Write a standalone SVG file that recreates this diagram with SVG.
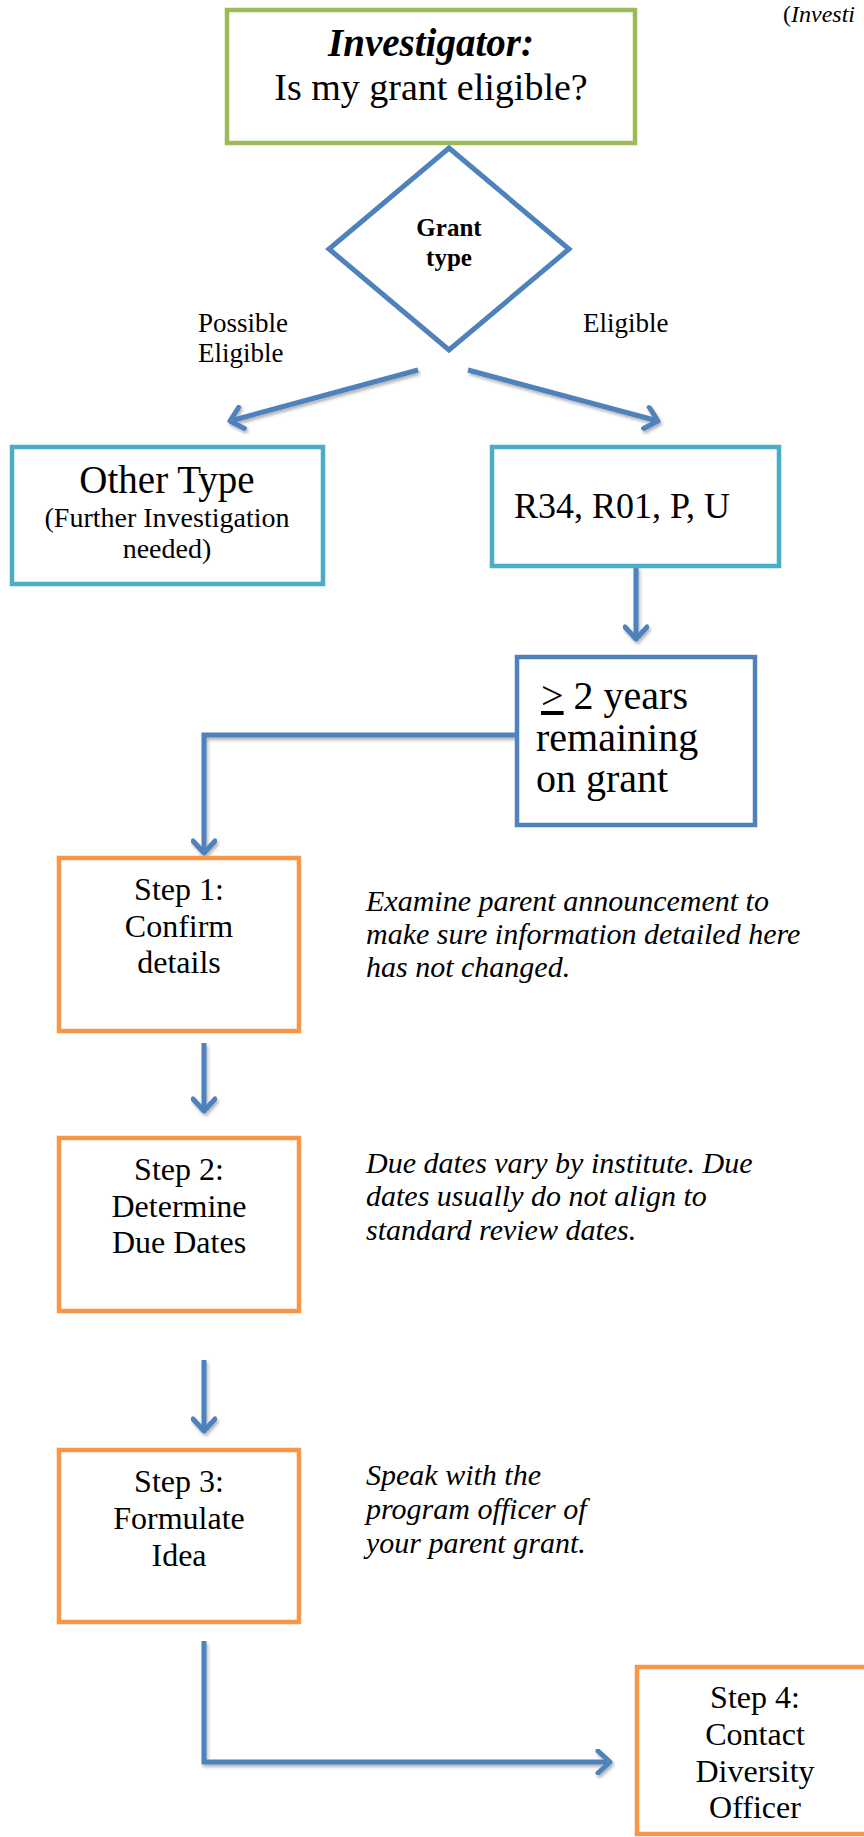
<svg xmlns="http://www.w3.org/2000/svg" width="864" height="1837" viewBox="0 0 864 1837">
<style>
  .t { font-family: "Liberation Serif", "Times New Roman", serif; fill: #000; }
  .box { fill: #fff; stroke-width: 4.5; }
  .green { stroke: #9BBB59; }
  .teal { stroke: #4BACC6; }
  .blue { stroke: #4F81BD; }
  .orange { stroke: #F79646; }
  .conn { fill: none; stroke: #4F81BD; stroke-width: 5; }
  .note { font-style: italic; font-size: 30px; }
  .step { font-size: 32px; text-anchor: middle; }
</style>
<defs>
  <marker id="arr" viewBox="0 0 26 26" refX="20" refY="13" markerWidth="26" markerHeight="26" markerUnits="userSpaceOnUse" orient="auto">
    <path d="M8,2 L20,13 L8,24" fill="none" stroke="#4F81BD" stroke-width="5" stroke-linecap="round" stroke-linejoin="round"/>
  </marker>
  <filter id="sh" x="-20%" y="-20%" width="140%" height="140%">
    <feDropShadow dx="1.5" dy="2.5" stdDeviation="1.8" flood-color="#000" flood-opacity="0.3"/>
  </filter>
</defs>
<rect width="864" height="1837" fill="#fff"/>

<text class="t" x="783" y="22" font-size="24">(<tspan font-style="italic">Investi</tspan></text>

<g id="connectors" filter="url(#sh)">
  <path class="conn" d="M418,370 L230,421" marker-end="url(#arr)"/>
  <path class="conn" d="M468,370 L658,421" marker-end="url(#arr)"/>
  <path class="conn" d="M636,567 L636,639" marker-end="url(#arr)"/>
  <path class="conn" d="M515,735 H204 V853" marker-end="url(#arr)"/>
  <path class="conn" d="M204,1043 V1111" marker-end="url(#arr)"/>
  <path class="conn" d="M204,1360 V1431" marker-end="url(#arr)"/>
  <path class="conn" d="M204,1641 V1762 H610" marker-end="url(#arr)"/>
</g>

<g id="start">
  <rect class="box green" x="227" y="10" width="408" height="133"/>
  <text class="t" x="431" y="56" font-size="39" font-weight="bold" font-style="italic" text-anchor="middle">Investigator:</text>
  <text class="t" x="431" y="100" font-size="38" text-anchor="middle">Is my grant eligible?</text>
</g>

<g id="grant-type">
  <polygon points="449,148 569,249 449,350 329,249" fill="#fff" stroke="#4F81BD" stroke-width="5"/>
  <text class="t" x="449" y="236" font-size="25" font-weight="bold" text-anchor="middle">Grant</text>
  <text class="t" x="449" y="266" font-size="25" font-weight="bold" text-anchor="middle">type</text>
</g>

<g id="label-possible">
  <text class="t" x="198" y="332" font-size="27">Possible</text>
  <text class="t" x="198" y="362" font-size="27">Eligible</text>
</g>
<g id="label-eligible">
  <text class="t" x="583" y="332" font-size="27">Eligible</text>
</g>

<g id="other-type">
  <rect class="box teal" x="12" y="447" width="311" height="137"/>
  <text class="t" x="167" y="493" font-size="39" text-anchor="middle">Other Type</text>
  <text class="t" x="167" y="527" font-size="28" text-anchor="middle">(Further Investigation</text>
  <text class="t" x="167" y="558" font-size="28" text-anchor="middle">needed)</text>
</g>

<g id="r34">
  <rect class="box teal" x="492" y="447" width="287" height="119"/>
  <text class="t" x="514" y="518" font-size="36">R34, R01, P, U</text>
</g>

<g id="years">
  <rect class="box blue" x="517" y="657" width="238" height="168"/>
  <text class="t" x="541" y="709" font-size="40"><tspan text-decoration="underline">&gt;</tspan> 2 years</text>
  <text class="t" x="536" y="751" font-size="40">remaining</text>
  <text class="t" x="536" y="792" font-size="40">on grant</text>
</g>

<g id="step1">
  <rect class="box orange" x="59" y="858" width="240" height="173"/>
  <text class="t step" x="179" y="900">Step 1:</text>
  <text class="t step" x="179" y="937">Confirm</text>
  <text class="t step" x="179" y="973">details</text>
</g>
<g id="note1">
  <text class="t note" x="366" y="911">Examine parent announcement to</text>
  <text class="t note" x="366" y="944">make sure information detailed here</text>
  <text class="t note" x="366" y="977">has not changed.</text>
</g>

<g id="step2">
  <rect class="box orange" x="59" y="1138" width="240" height="173"/>
  <text class="t step" x="179" y="1180">Step 2:</text>
  <text class="t step" x="179" y="1217">Determine</text>
  <text class="t step" x="179" y="1253">Due Dates</text>
</g>
<g id="note2">
  <text class="t note" x="366" y="1173">Due dates vary by institute. Due</text>
  <text class="t note" x="366" y="1206">dates usually do not align to</text>
  <text class="t note" x="366" y="1240">standard review dates.</text>
</g>

<g id="step3">
  <rect class="box orange" x="59" y="1450" width="240" height="172"/>
  <text class="t step" x="179" y="1492">Step 3:</text>
  <text class="t step" x="179" y="1529">Formulate</text>
  <text class="t step" x="179" y="1566">Idea</text>
</g>
<g id="note3">
  <text class="t note" x="366" y="1485">Speak with the</text>
  <text class="t note" x="366" y="1519">program officer of</text>
  <text class="t note" x="366" y="1553">your parent grant.</text>
</g>

<g id="step4">
  <rect class="box orange" x="637" y="1667" width="260" height="167"/>
  <text class="t step" x="755" y="1708">Step 4:</text>
  <text class="t step" x="755" y="1745">Contact</text>
  <text class="t step" x="755" y="1782">Diversity</text>
  <text class="t step" x="755" y="1818">Officer</text>
</g>
</svg>
